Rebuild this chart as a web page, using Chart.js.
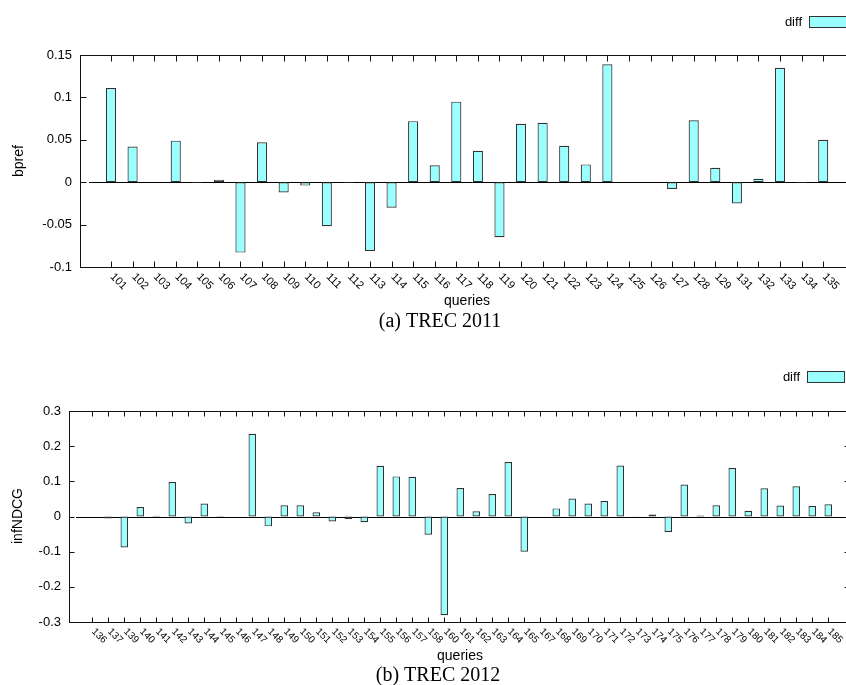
<!DOCTYPE html>
<html>
<head>
<meta charset="utf-8">
<script src="https://cdn.jsdelivr.net/npm/chart.js@4/dist/chart.umd.min.js"></script>
<style>
  html, body { margin: 0; padding: 0; background: #fff; overflow: hidden; }
  .panel { position: absolute; left: 0; }
</style>
</head>
<body>
<div class="panel" style="top:0"><canvas id="trec2011" width="860" height="342"></canvas></div>
<div class="panel" style="top:342px"><canvas id="trec2012" width="860" height="343"></canvas></div>
<script>
// TREC 2011 queries and bpref difference
const queries2011 = ['101', '102', '103', '104', '105', '106', '107', '108', '109', '110',
    '111', '112', '113', '114', '115', '116', '117', '118', '119', '120',
    '121', '122', '123', '124', '125', '126', '127', '128', '129', '131',
    '132', '133', '134', '135'];
const bprefDiff = [0.111, 0.042, 0, 0.049, -0.001, 0.003, -0.083, 0.047, -0.012, -0.004,
    -0.052, -0.001, -0.081, -0.030, 0.072, 0.020, 0.095, 0.037, -0.065, 0.069,
    0.070, 0.043, 0.021, 0.139, 0, 0, -0.008, 0.073, 0.017, -0.025,
    0.004, 0.135, -0.001, 0.050];

// TREC 2012 queries and infNDCG difference
const queries2012 = ['136', '137', '139', '140', '141', '142', '143', '144', '145', '146',
    '147', '148', '149', '150', '151', '152', '153', '154', '155', '156',
    '157', '158', '160', '161', '162', '163', '164', '165', '167', '168',
    '169', '170', '171', '172', '173', '174', '175', '176', '177', '178',
    '179', '180', '181', '182', '183', '184', '185'];
const infNdcgDiff = [0, -0.006, -0.088, 0.027, 0.002, 0.098, -0.020, 0.037, -0.002, 0,
    0.235, -0.028, 0.032, 0.032, 0.012, -0.014, -0.007, -0.016, 0.144, 0.114,
    0.113, -0.052, -0.281, 0.081, 0.015, 0.064, 0.155, -0.100, 0, 0.023,
    0.051, 0.037, 0.044, 0.145, 0.001, 0.006, -0.044, 0.091, 0.003, 0.032,
    0.138, 0.016, 0.080, 0.031, 0.086, 0.030, 0.035];

const barFill = 'rgb(153, 255, 255)';
const barLine = '#333';

// Frame, inside ticks, zero line, rotated query labels, titles and key
const gnuplotLook = {
    id: 'gnuplotLook',
    beforeDatasetsDraw(chart) {
        const { ctx, chartArea: a, scales: { x, y } } = chart;
        const y0 = Math.round(y.getPixelForValue(0)) + 0.5;
        ctx.save();
        ctx.strokeStyle = '#000';
        ctx.lineWidth = 1;
        ctx.beginPath();
        ctx.moveTo(Math.round(x.getPixelForValue(-1)), y0);
        ctx.lineTo(a.right, y0);
        ctx.stroke();
        ctx.restore();
    },
    afterDraw(chart, args, opts) {
        const { ctx, chartArea: a, scales: { x, y } } = chart;
        const labels = opts.labels;
        const L = Math.round(a.left) + 0.5, R = Math.round(a.right) - 0.5;
        const T = Math.round(a.top) + 0.5, B = Math.round(a.bottom) + 0.5;
        ctx.save();
        ctx.strokeStyle = '#111';
        ctx.lineWidth = 1;
        ctx.strokeRect(L, T, R - L, B - T);

        // tick marks point inwards on all four sides
        ctx.beginPath();
        labels.forEach((lab, i) => {
            const px = Math.round(x.getPixelForValue(i)) + 0.5;
            ctx.moveTo(px, B); ctx.lineTo(px, B - opts.tickLen);
            ctx.moveTo(px, T); ctx.lineTo(px, T + opts.tickLen);
        });
        y.ticks.forEach(t => {
            const py = Math.round(y.getPixelForValue(t.value)) + 0.5;
            ctx.moveTo(L, py); ctx.lineTo(L + opts.tickLen, py);
            ctx.moveTo(R, py); ctx.lineTo(R - opts.tickLen, py);
        });
        ctx.stroke();

        // query numbers, turned 45 degrees clockwise
        ctx.fillStyle = '#000';
        ctx.font = opts.xFont + 'px "Liberation Sans", Arial, sans-serif';
        ctx.textAlign = 'left';
        ctx.textBaseline = 'middle';
        labels.forEach((lab, i) => {
            const px = x.getPixelForValue(i);
            ctx.save();
            ctx.translate(px + 1, a.bottom + 8);
            ctx.rotate(Math.PI / 4);
            ctx.fillText(lab, 0, 0);
            ctx.restore();
        });

        // axis titles
        ctx.font = '14px "Liberation Sans", Arial, sans-serif';
        ctx.textAlign = 'center';
        ctx.textBaseline = 'alphabetic';
        ctx.fillText('queries', opts.xTitle[0], opts.xTitle[1]);
        ctx.save();
        ctx.translate(opts.yTitle[0], opts.yTitle[1]);
        ctx.rotate(-Math.PI / 2);
        ctx.textBaseline = 'middle';
        ctx.fillText(opts.yText, 0, 0);
        ctx.restore();

        // caption under the plot
        ctx.font = '20px "Liberation Serif", "Times New Roman", serif';
        ctx.fillText(opts.caption, opts.captionAt[0], opts.captionAt[1]);

        // key in the top right corner
        const ds = chart.data.datasets[0];
        ctx.font = '13px "Liberation Sans", Arial, sans-serif';
        ctx.textAlign = 'right';
        ctx.fillText(ds.label, opts.key[0] - 7, opts.key[1] + 10);
        ctx.fillStyle = ds.backgroundColor;
        ctx.fillRect(opts.key[0], opts.key[1], 37, 11);
        ctx.strokeStyle = ds.borderColor;
        ctx.strokeRect(opts.key[0] + 0.5, opts.key[1] + 0.5, 37, 11);
        ctx.restore();
    }
};

// Function to build one difference chart
function makeDiffChart(canvasId, labels, values, look) {
    return new Chart(document.getElementById(canvasId), {
        type: 'bar',
        data: {
            datasets: [{
                label: 'diff',
                data: values.map((v, i) => ({ x: i, y: v })),
                backgroundColor: barFill,
                borderColor: barLine,
                borderWidth: 1.2,
                borderSkipped: false,
                barPercentage: 0.47,
                categoryPercentage: 1
            }]
        },
        options: {
            responsive: false,
            animation: false,
            devicePixelRatio: 1,
            layout: { padding: { top: look.top, left: 0, right: look.right, bottom: 0 } },
            plugins: {
                legend: { display: false },
                tooltip: { enabled: false },
                gnuplotLook: Object.assign({ labels }, look)
            },
            scales: {
                x: {
                    type: 'linear',
                    min: look.xMin,
                    max: look.xMax,
                    offset: false,
                    grid: { display: false },
                    border: { display: false },
                    ticks: { display: false, stepSize: 1, includeBounds: false },
                    afterFit: s => { s.height = look.xHeight; }
                },
                y: {
                    min: look.yMin,
                    max: look.yMax,
                    grid: { display: false, drawTicks: false },
                    border: { display: false },
                    ticks: {
                        stepSize: look.yStep,
                        padding: 8,
                        color: '#000',
                        font: { family: '"Liberation Sans", Arial, sans-serif', size: 13 },
                        callback: v => String(+v.toFixed(2))
                    },
                    afterFit: s => { s.width = look.yWidth; }
                }
            }
        },
        plugins: [gnuplotLook]
    });
}

makeDiffChart('trec2011', queries2011, bprefDiff, {
    top: 55, right: 4, xHeight: 75, yWidth: 80,
    xMin: -1.436, xMax: 34.52,
    yMin: -0.1, yMax: 0.15, yStep: 0.05,
    tickLen: 6, xFont: 11,
    yText: 'bpref', yTitle: [19, 161],
    xTitle: [467, 305],
    caption: '(a) TREC 2011', captionAt: [440, 327],
    key: [809, 16]
});

makeDiffChart('trec2012', queries2012, infNdcgDiff, {
    top: 69, right: 10, xHeight: 63, yWidth: 69,
    xMin: -1.456, xMax: 47.36,
    yMin: -0.3, yMax: 0.3, yStep: 0.1,
    tickLen: 5, xFont: 10,
    yText: 'infNDCG', yTitle: [18, 174],
    xTitle: [460, 318],
    caption: '(b) TREC 2012', captionAt: [438, 339],
    key: [807, 29]
});
</script>
</body>
</html>
